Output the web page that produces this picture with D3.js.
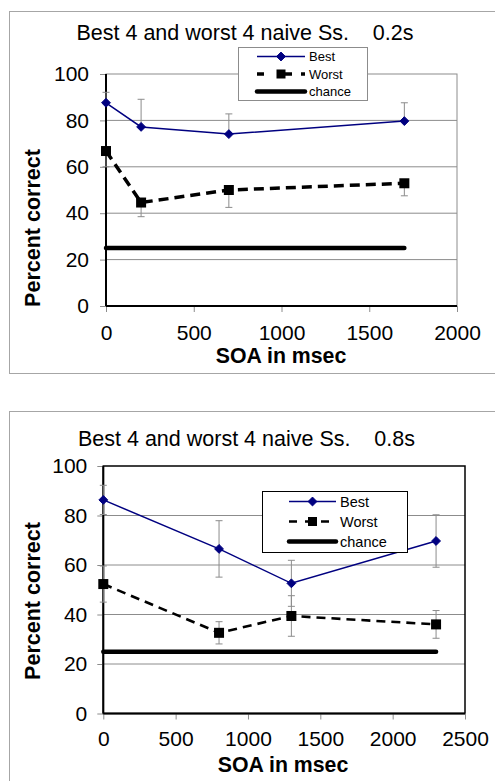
<!DOCTYPE html>
<html>
<head>
<meta charset="utf-8">
<script src="https://cdn.jsdelivr.net/npm/d3@7"></script>
<style>
  html, body { margin: 0; padding: 0; background: #fff; }
  svg { display: block; font-family: "Liberation Sans", Arial, sans-serif; }
</style>
</head>
<body>
<svg id="chart" width="495" height="781"></svg>
<script>
// SOA conditions and percent correct for the 0.2 s exposure
const soa02 = [0, 200, 700, 1700];
const best02 = [87.6, 77.2, 74.1, 79.7];
const best02Err = [4.5, 11.9, 8.7, 7.9];
const worst02 = [66.8, 44.6, 50.0, 52.9];
const worst02Err = [6.8, 6.1, 7.5, 5.4];

// SOA conditions and percent correct for the 0.8 s exposure
const soa08 = [0, 800, 1300, 2300];
const best08 = [86.3, 66.5, 52.6, 69.7];
const best08Err = [5.9, 11.4, 9.3, 10.6];
const worst08 = [52.3, 32.6, 39.4, 36.0];
const worst08Err = [7.3, 4.5, 8.2, 5.6];

const chanceLevel = 25;
const yTicks = [0, 20, 40, 60, 80, 100];
const xTicks02 = [0, 500, 1000, 1500, 2000];
const xTicks08 = [0, 500, 1000, 1500, 2000, 2500];
const seriesNames = ["Best", "Worst", "chance"];
const titles = ["Best 4 and worst 4 naive Ss.    0.2s", "Best 4 and worst 4 naive Ss.    0.8s"];

const svg = d3.select("#chart");
const navy = "#000080";
const grey = "#8c8c8c";
const plain = d3.format("d");

function drawPanel(p) {
  const g = svg.append("g");

  // outer chart frame
  g.append("rect")
    .attr("x", p.frame[0] + 0.5).attr("y", p.frame[1] + 0.5)
    .attr("width", p.frame[2]).attr("height", p.frame[3])
    .attr("fill", "none").attr("stroke", "#a6a6a6").attr("stroke-width", 1);

  const x = d3.scaleLinear().domain(p.xDomain).range([p.left, p.right]);
  const y = d3.scaleLinear().domain([0, 100]).range([p.bottom, p.top]);

  // horizontal gridlines
  g.append("g").selectAll("line").data(p.yTicks.filter(v => v > 0 && v < 100)).join("line")
    .attr("x1", p.left).attr("x2", p.right)
    .attr("y1", d => y(d)).attr("y2", d => y(d))
    .attr("stroke", grey).attr("stroke-width", 1);

  // plot area border
  g.append("rect")
    .attr("x", p.left).attr("y", p.top)
    .attr("width", p.right - p.left).attr("height", p.bottom - p.top)
    .attr("fill", "none").attr("stroke", p.borderColor).attr("stroke-width", p.borderWidth);

  // axes
  const yAxis = d3.axisLeft(y).tickValues(p.yTicks).tickFormat(plain)
    .tickSize(6).tickPadding(p.yPad).tickSizeOuter(0);
  const ya = g.append("g").attr("transform", `translate(${p.left},0)`).call(yAxis);
  ya.select(".domain").remove();
  ya.selectAll(".tick line").attr("stroke", grey);
  ya.selectAll(".tick text").attr("font-size", 21).attr("fill", "#000")
    .attr("font-family", "Liberation Sans, Arial, sans-serif");

  const xAxis = d3.axisBottom(x).tickValues(p.xTicks).tickFormat(plain)
    .tickSize(6).tickPadding(p.xPad).tickSizeOuter(0);
  const xa = g.append("g").attr("transform", `translate(0,${p.bottom})`).call(xAxis);
  xa.select(".domain").remove();
  xa.selectAll(".tick line").attr("stroke", grey);
  xa.selectAll(".tick text").attr("font-size", 21).attr("fill", "#000")
    .attr("font-family", "Liberation Sans, Arial, sans-serif");

  // black axis lines
  g.append("line").attr("x1", p.left).attr("x2", p.left).attr("y1", p.top).attr("y2", p.bottom)
    .attr("stroke", "#000").attr("stroke-width", 2);
  g.append("line").attr("x1", p.left).attr("x2", p.right).attr("y1", p.bottom).attr("y2", p.bottom)
    .attr("stroke", "#000").attr("stroke-width", 2);

  // error bars
  function errorBars(xs, vals, errs, up, down) {
    const eg = g.append("g").attr("stroke", grey).attr("stroke-width", 1);
    xs.forEach((sx, i) => {
      const hi = up ? vals[i] + errs[i] : vals[i];
      const lo = down ? vals[i] - errs[i] : vals[i];
      eg.append("line").attr("x1", x(sx)).attr("x2", x(sx)).attr("y1", y(hi)).attr("y2", y(lo));
      if (up) eg.append("line").attr("x1", x(sx) - 3.5).attr("x2", x(sx) + 3.5).attr("y1", y(hi)).attr("y2", y(hi));
      if (down) eg.append("line").attr("x1", x(sx) - 3.5).attr("x2", x(sx) + 3.5).attr("y1", y(lo)).attr("y2", y(lo));
    });
  }
  errorBars(p.soa, p.best, p.bestErr, true, p.bothErr);
  errorBars(p.soa, p.worst, p.worstErr, p.bothErr, true);

  const line = d3.line().x(d => x(d[0])).y(d => y(d[1]));

  // Best series
  g.append("path").datum(p.soa.map((s, i) => [s, p.best[i]]))
    .attr("d", line).attr("fill", "none").attr("stroke", navy).attr("stroke-width", 1.5);
  g.append("g").selectAll("path").data(p.soa.map((s, i) => [s, p.best[i]])).join("path")
    .attr("d", d3.symbol(d3.symbolDiamond2, 50))
    .attr("transform", d => `translate(${x(d[0])},${y(d[1])})`)
    .attr("fill", navy).attr("stroke", navy).attr("stroke-width", 1);

  // Worst series
  g.append("path").datum(p.soa.map((s, i) => [s, p.worst[i]]))
    .attr("d", line).attr("fill", "none").attr("stroke", "#000")
    .attr("stroke-width", p.worstWidth).attr("stroke-dasharray", p.worstDash);
  g.append("g").selectAll("rect").data(p.soa.map((s, i) => [s, p.worst[i]])).join("rect")
    .attr("x", d => x(d[0]) - 5).attr("y", d => y(d[1]) - 5)
    .attr("width", 10).attr("height", 10).attr("fill", "#000");

  // chance level
  const chanceEnd = p.soa[p.soa.length - 1];
  g.append("line")
    .attr("x1", x(0)).attr("x2", x(chanceEnd))
    .attr("y1", y(chanceLevel)).attr("y2", y(chanceLevel))
    .attr("stroke", "#000").attr("stroke-width", 4.5).attr("stroke-linecap", "round");

  // title and axis titles
  g.append("text").attr("x", p.titlePos[0]).attr("y", p.titlePos[1])
    .attr("text-anchor", "middle").attr("font-size", 21.5).style("white-space", "pre")
    .text(p.title);
  g.append("text").attr("x", p.xLabelPos[0]).attr("y", p.xLabelPos[1])
    .attr("text-anchor", "middle").attr("font-size", 21.3).attr("font-weight", "bold")
    .text("SOA in msec");
  g.append("text")
    .attr("transform", `translate(${p.yLabelPos[0]},${p.yLabelPos[1]}) rotate(-90)`)
    .attr("text-anchor", "middle").attr("font-size", 21.5).attr("font-weight", "bold")
    .text("Percent correct");

  // legend
  const L = p.legend;
  g.append("rect").attr("x", L.x + 0.5).attr("y", L.y + 0.5).attr("width", L.w).attr("height", L.h)
    .attr("fill", "#fff").attr("stroke", L.stroke).attr("stroke-width", 1);
  seriesNames.forEach((name, i) => {
    const ly = L.rows[i];
    const ln = g.append("line").attr("x1", L.x1).attr("x2", L.x2).attr("y1", ly).attr("y2", ly);
    if (i === 0) {
      ln.attr("stroke", navy).attr("stroke-width", 1.5);
      g.append("path").attr("d", d3.symbol(d3.symbolDiamond2, 50))
        .attr("transform", `translate(${(L.x1 + L.x2) / 2},${ly})`)
        .attr("fill", navy).attr("stroke", navy);
    } else if (i === 1) {
      ln.attr("stroke", "#000").attr("stroke-width", p.worstWidth).attr("stroke-dasharray", L.dash);
      g.append("rect").attr("x", (L.x1 + L.x2) / 2 - 4.5).attr("y", ly - 4.5)
        .attr("width", 9).attr("height", 9).attr("fill", "#000");
    } else {
      ln.attr("stroke", "#000").attr("stroke-width", 4.5).attr("stroke-linecap", "round");
    }
    g.append("text").attr("x", L.x2 + 4).attr("y", ly + L.fs * 0.36)
      .attr("font-size", L.fs).text(name);
  });
}

drawPanel({
  frame: [9, 11, 600, 362],
  left: 106, right: 457, top: 74, bottom: 306,
  xDomain: [0, 2000], xTicks: xTicks02, yTicks: yTicks,
  yPad: 11, xPad: 13,
  borderColor: grey, borderWidth: 1,
  soa: soa02, best: best02, bestErr: best02Err, worst: worst02, worstErr: worst02Err,
  bothErr: false, worstWidth: 3.5, worstDash: "10,6",
  title: titles[0], titlePos: [245, 39.5],
  xLabelPos: [281, 363], yLabelPos: [40, 228],
  legend: { x: 238, y: 47, w: 129, h: 53, stroke: grey, x1: 257, x2: 305,
            rows: [56.5, 74, 91.5], fs: 13, dash: "7,14,14,9,6" }
});

drawPanel({
  frame: [9, 411, 600, 420],
  left: 103.3, right: 465, top: 466, bottom: 713.5,
  xDomain: [0, 2500], xTicks: xTicks08, yTicks: yTicks,
  yPad: 10, xPad: 12,
  borderColor: "#000", borderWidth: 1.5,
  soa: soa08, best: best08, bestErr: best08Err, worst: worst08, worstErr: worst08Err,
  bothErr: true, worstWidth: 2.6, worstDash: "9,6",
  title: titles[1], titlePos: [246.5, 446],
  xLabelPos: [283, 771.5], yLabelPos: [40, 601],
  legend: { x: 262, y: 491, w: 145, h: 61, stroke: "#000", x1: 289, x2: 336,
            rows: [501.5, 521.5, 541.5], fs: 14.5, dash: "8,8" }
});
</script>
</body>
</html>
